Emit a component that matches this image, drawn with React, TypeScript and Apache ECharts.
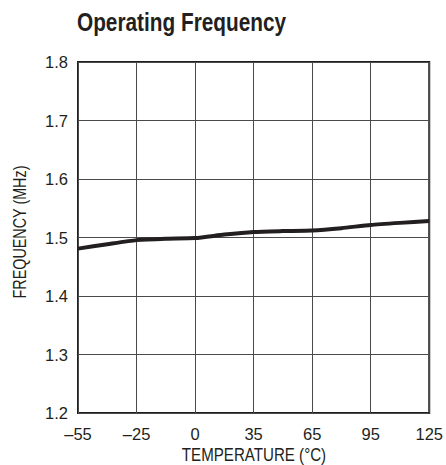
import React, { useEffect, useRef } from 'react';
import * as echarts from 'echarts';

const titleText = 'Operating Frequency';
const xAxisName = 'TEMPERATURE (°C)';
const yAxisName = 'FREQUENCY (MHz)';
const xTickLabels = ['–55', '–25', '0', '35', '65', '95', '125'];
// positions along the x axis, in tick units (0 = –55, 6 = 125)
const xPositions = [0, 0.5, 1, 1.5, 2, 2.5, 3, 3.5, 4, 4.5, 5, 5.5, 6];
const frequency = [1.481, 1.4885, 1.4955, 1.498, 1.499, 1.505, 1.5095, 1.511, 1.512, 1.516, 1.5215, 1.525, 1.528];
const yMin = 1.2;
const yMax = 1.8;
const yStep = 0.1;

const REGULAR = '"Liberation Sans", Arial, Helvetica, sans-serif';
const INK = '#231f20';

export default function App() {
  const ref = useRef<HTMLDivElement>(null);
  useEffect(() => {
    document.body.style.margin = '0';
    const chart = echarts.init(ref.current!, null, { renderer: 'svg' });
    chart.setOption({
      animation: false,
      backgroundColor: '#ffffff',
      graphic: [
        {
          type: 'text',
          x: 77,
          y: 22.5,
          scaleX: 0.8,
          style: {
            text: titleText,
            fontFamily: REGULAR,
            fontWeight: 'bold',
            fontSize: 26,
            fill: INK,
            textAlign: 'left',
            textVerticalAlign: 'middle',
          },
        },
        {
          type: 'text',
          x: 254,
          y: 455,
          scaleX: 0.84,
          style: {
            text: xAxisName,
            fontFamily: REGULAR,
            fontSize: 18,
            fill: INK,
            textAlign: 'center',
            textVerticalAlign: 'middle',
          },
        },
        {
          type: 'text',
          x: 20,
          y: 232,
          rotation: Math.PI / 2,
          scaleX: 0.82,
          style: {
            text: yAxisName,
            fontFamily: REGULAR,
            fontSize: 17.5,
            fill: INK,
            textAlign: 'center',
            textVerticalAlign: 'middle',
          },
        },
      ],
      grid: {
        left: 78,
        right: 16,
        top: 62,
        bottom: 52,
        show: true,
        borderColor: INK,
        borderWidth: 2,
        backgroundColor: 'transparent',
      },
      xAxis: {
        type: 'value',
        min: 0,
        max: xTickLabels.length - 1,
        interval: 1,
        axisLine: { show: false },
        axisTick: { show: false },
        axisLabel: {
          margin: 12,
          fontFamily: REGULAR,
          fontSize: 16.5,
          color: INK,
          formatter: (v: number) => xTickLabels[Math.round(v)] ?? '',
        },
        splitLine: { show: true, lineStyle: { color: '#4a4a4a', width: 1 } },
      },
      yAxis: {
        type: 'value',
        min: yMin,
        max: yMax,
        interval: yStep,
        axisLine: { show: false },
        axisTick: { show: false },
        axisLabel: {
          margin: 10,
          fontFamily: REGULAR,
          fontSize: 16.5,
          color: INK,
          formatter: (v: number) => v.toFixed(1),
        },
        splitLine: { show: true, lineStyle: { color: '#4a4a4a', width: 1 } },
      },
      series: [
        {
          type: 'line',
          data: xPositions.map((x, i) => [x, frequency[i]]),
          showSymbol: false,
          smooth: 0.2,
          lineStyle: { color: INK, width: 4 },
        },
      ],
    });
    return () => chart.dispose();
  }, []);
  return <div ref={ref} style={{ position: 'absolute', left: 0, top: 0, width: 446, height: 465 }} />;
}
